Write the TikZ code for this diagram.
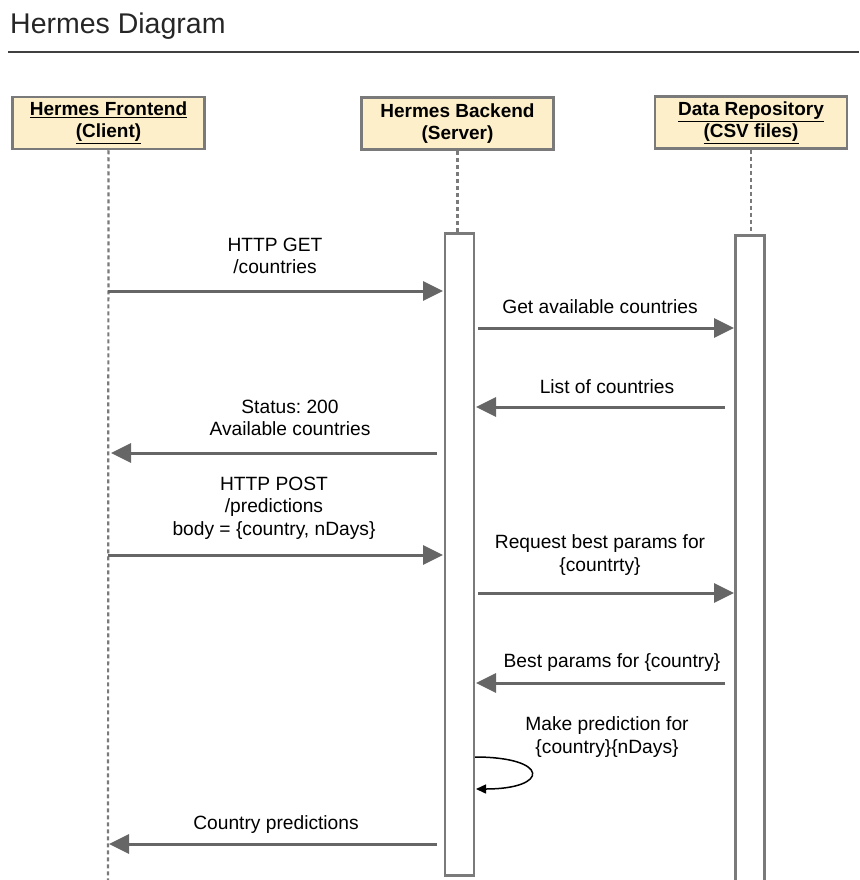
\documentclass[tikz,border=0pt]{standalone}
\usepackage{fontspec}
\setmainfont{Liberation Sans}
\usetikzlibrary{arrows.meta}
\frenchspacing
\definecolor{boxfill}{HTML}{FDEFC9}
\definecolor{edgegray}{HTML}{7A7A7A}
\definecolor{arrowgray}{HTML}{666666}
\tikzset{
  actor/.style={draw=edgegray, line width=2.5pt, fill=boxfill, minimum width=192pt, minimum height=52pt,
    align=center, inner sep=0pt, font=\fontsize{19}{21}\selectfont\bfseries},
  actbar/.style={draw=edgegray, line width=2.5pt, fill=white, minimum width=29pt, inner sep=0pt},
  lifeline/.style={draw=edgegray, line width=2.2pt, dash pattern=on 4pt off 3pt},
  msg/.style={draw=arrowgray, line width=3pt, -{Triangle[length=20pt,width=19pt]}, arrowgray},
  lbl/.style={align=center, inner sep=0pt, font=\fontsize{19.2}{22.5}\selectfont, text=black},
  selfmsg/.style={draw=black, line width=1.5pt, -{Triangle[length=10pt,width=9pt]}}
}
\begin{document}
\begin{tikzpicture}[x=1pt,y=-1pt]
\useasboundingbox (0,0) rectangle (859,880);
% title
\node[anchor=base west, inner sep=0pt, font=\fontsize{28.5}{30}\selectfont, text=black!85] (title) at (10,34) {Hermes Diagram};
\draw[draw=black!75, line width=1.5pt] (8,52) -- (859,52);
% actors
\node[actor] (fe) at (108.5,123) {\underline{Hermes Frontend}\\[1pt]\underline{(Client)}};
\node[actor] (be) at (457.5,123.5) {Hermes Backend\\[1pt](Server)};
\node[actor] (dr) at (751,122.5) {\underline{Data Repository}\\[1pt]\underline{(CSV files)}};
% activation bars
\node[actbar, minimum height=642pt, anchor=north] (beact) at (459.5,232) {};
\node[actbar, minimum height=660pt, anchor=north] (dract) at (750,234) {};
% lifelines
\coordinate (feend) at (108,880);
\draw[lifeline] (fe.south) -- (feend);
\draw[lifeline] (be.south) -- (be.south |- beact.north);
\draw[lifeline] (dr.south) -- (dr.south |- dract.north);
% message endpoints
\coordinate (m1a) at (108,291); \coordinate (m1b) at (443,291);
\coordinate (m2a) at (478,328); \coordinate (m2b) at (734,328);
\coordinate (m3a) at (725,407); \coordinate (m3b) at (476,407);
\coordinate (m4a) at (437,453); \coordinate (m4b) at (111,453);
\coordinate (m5a) at (108,555); \coordinate (m5b) at (443,555);
\coordinate (m6a) at (478,593); \coordinate (m6b) at (734,593);
\coordinate (m7a) at (725,683); \coordinate (m7b) at (476,683);
\coordinate (m8a) at (475,757); \coordinate (m8b) at (476,789);
\coordinate (m9a) at (437,844); \coordinate (m9b) at (109,844);
% messages
\draw[msg] (m1a) -- (m1b);
\node[lbl] (l1) at (275,256) {HTTP GET\\/countries};
\draw[msg] (m2a) -- (m2b);
\node[lbl] (l2) at (600,307) {Get available countries};
\draw[msg] (m3a) -- (m3b);
\node[lbl] (l3) at (607,387) {List of countries};
\draw[msg] (m4a) -- (m4b);
\node[lbl] (l4) at (290,418) {Status: 200\\Available countries};
\draw[msg] (m5a) -- (m5b);
\node[lbl] (l5) at (274,508) {HTTP POST\\/predictions\\body = \{country, nDays\}};
\draw[msg] (m6a) -- (m6b);
\node[lbl] (l6) at (600,555) {Request best params for\\\{countrty\}};
\draw[msg] (m7a) -- (m7b);
\node[lbl] (l7) at (612,663) {Best params for \{country\}};
\draw[selfmsg] (m8a) .. controls (550,757) and (550,789) .. (m8b);
\node[lbl] (l8) at (607,737) {Make prediction for\\\{country\}\{nDays\}};
\draw[msg] (m9a) -- (m9b);
\node[lbl] (l9) at (276,825) {Country predictions};
\end{tikzpicture}
\end{document}
